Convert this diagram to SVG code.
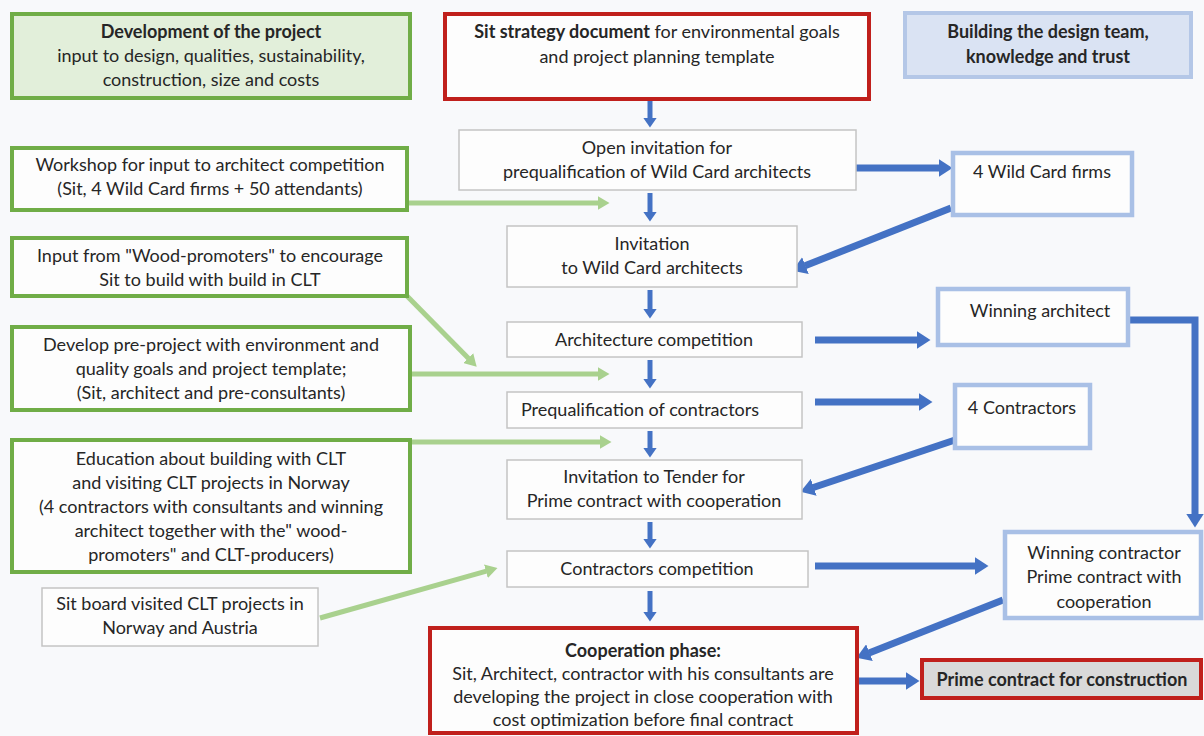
<svg xmlns="http://www.w3.org/2000/svg" width="1204" height="736" viewBox="0 0 1204 736">
  <defs>
    <style>
      text { font-family: Lato, "Liberation Sans", sans-serif; font-size: 18px; fill: #262626; text-anchor: middle; }
      .b { font-weight: bold; }
      .step { fill: #fdfdfd; stroke: #c4c4c4; stroke-width: 1.5; }
      .input { fill: #fdfdfd; stroke: #70ad47; stroke-width: 4; }
      .team { fill: #fdfdfd; stroke: #a9c0e6; stroke-width: 4.5; }
      .key { fill: #fdfdfd; stroke: #c0201c; stroke-width: 4; }
      .blue { stroke: #4472c4; fill: none; }
      .green { stroke: #a9d18e; fill: none; stroke-width: 5; }
    </style>
    <marker id="hd" markerUnits="userSpaceOnUse" markerWidth="10" markerHeight="14" viewBox="0 0 10 14" refX="0.5" refY="7" orient="auto">
      <path d="M0,0 L10,7 L0,14 z" fill="#4472c4"/>
    </marker>
    <marker id="hb" markerUnits="userSpaceOnUse" markerWidth="14" markerHeight="18" viewBox="0 0 14 18" refX="0.5" refY="9" orient="auto">
      <path d="M0,0 L14,9 L0,18 z" fill="#4472c4"/>
    </marker>
    <marker id="hg" markerUnits="userSpaceOnUse" markerWidth="12" markerHeight="14" viewBox="0 0 12 14" refX="0.5" refY="7" orient="auto">
      <path d="M0,0 L12,7 L0,14 z" fill="#a9d18e"/>
    </marker>
  </defs>

  <rect width="1204" height="736" fill="#f8f9fb"/>

  <!-- connectors -->
  <g id="connectors">
    <!-- main sequence, downward -->
    <g class="blue" stroke-width="5" marker-end="url(#hd)">
      <line x1="650" y1="100" x2="650" y2="118"/>
      <line x1="650" y1="193" x2="650" y2="212"/>
      <line x1="650" y1="290" x2="650" y2="309"/>
      <line x1="650" y1="360" x2="650" y2="379"/>
      <line x1="650" y1="431" x2="650" y2="448"/>
      <line x1="650" y1="522" x2="650" y2="539"/>
      <line x1="650" y1="591" x2="650" y2="612"/>
    </g>
    <!-- design team links -->
    <g class="blue" stroke-width="7" marker-end="url(#hb)">
      <line x1="856" y1="168" x2="939" y2="168"/>
      <line x1="951" y1="208" x2="805" y2="265.8"/>
      <line x1="815" y1="340" x2="917" y2="340"/>
      <line x1="815" y1="402" x2="919" y2="402"/>
      <line x1="955" y1="440" x2="813.3" y2="487.5"/>
      <path d="M1128,320 H1195 V514"/>
      <line x1="815" y1="566" x2="975" y2="566"/>
      <line x1="1003" y1="600" x2="869" y2="652.9"/>
      <line x1="858" y1="681" x2="906" y2="681"/>
    </g>
    <!-- project inputs -->
    <g class="green" marker-end="url(#hg)">
      <line x1="407" y1="203" x2="598" y2="203"/>
      <line x1="407" y1="296" x2="468.6" y2="358.5"/>
      <line x1="410" y1="374" x2="598" y2="374"/>
      <line x1="410" y1="442" x2="600" y2="442"/>
      <line x1="320" y1="618" x2="486.4" y2="571.2"/>
    </g>
  </g>

  <!-- headers -->
  <g id="dev-header">
    <rect x="12" y="14" width="398" height="84" fill="#e2efda" stroke="#70ad47" stroke-width="4"/>
    <text x="211" y="38" class="b">Development of the project</text>
    <text x="211" y="62">input to design, qualities, sustainability,</text>
    <text x="211" y="86">construction, size and costs</text>
  </g>
  <g id="strategy">
    <rect x="445" y="14" width="424" height="85" class="key"/>
    <text x="657" y="38"><tspan class="b">Sit strategy document</tspan> for environmental goals</text>
    <text x="657" y="63">and project planning template</text>
  </g>
  <g id="team-header">
    <rect x="905" y="13" width="286" height="64" fill="#dae3f3" stroke="#b4c7e7" stroke-width="4"/>
    <text x="1048" y="38" class="b">Building the design team,</text>
    <text x="1048" y="63" class="b">knowledge and trust</text>
  </g>

  <!-- project inputs -->
  <g id="workshop">
    <rect x="12" y="148" width="395" height="62" class="input"/>
    <text x="210" y="171">Workshop for input to architect competition</text>
    <text x="210" y="195">(Sit, 4 Wild Card firms + 50 attendants)</text>
  </g>
  <g id="wood-promoters">
    <rect x="12" y="238" width="395" height="58" class="input"/>
    <text x="210" y="262">Input from "Wood-promoters" to encourage</text>
    <text x="210" y="286">Sit to build with build in CLT</text>
  </g>
  <g id="pre-project">
    <rect x="12" y="327" width="398" height="83" class="input"/>
    <text x="211" y="351">Develop pre-project with environment and</text>
    <text x="211" y="375">quality goals and project template;</text>
    <text x="211" y="399">(Sit, architect and pre-consultants)</text>
  </g>
  <g id="education">
    <rect x="12" y="440" width="398" height="132" class="input"/>
    <text x="211" y="465">Education about building with CLT</text>
    <text x="211" y="489">and visiting CLT projects in Norway</text>
    <text x="211" y="513">(4 contractors with consultants and winning</text>
    <text x="211" y="537">architect  together with the" wood-</text>
    <text x="211" y="561">promoters" and CLT-producers)</text>
  </g>
  <g id="board-visit">
    <rect x="42" y="588" width="276" height="58" class="step"/>
    <text x="180" y="610">Sit board visited CLT projects in</text>
    <text x="180" y="634">Norway and Austria</text>
  </g>

  <!-- main sequence -->
  <g id="open-invitation">
    <rect x="459" y="130" width="397" height="60" class="step"/>
    <text x="657" y="154">Open invitation for</text>
    <text x="657" y="178">prequalification of Wild Card architects</text>
  </g>
  <g id="invitation">
    <rect x="507" y="226" width="290" height="61" class="step"/>
    <text x="652" y="250">Invitation</text>
    <text x="652" y="274">to Wild Card architects</text>
  </g>
  <g id="architecture-competition">
    <rect x="507" y="322" width="295" height="35" class="step"/>
    <text x="654" y="346">Architecture competition</text>
  </g>
  <g id="prequalification">
    <rect x="507" y="392" width="295" height="36" class="step"/>
    <text x="640" y="416">Prequalification of contractors</text>
  </g>
  <g id="tender">
    <rect x="507" y="460" width="295" height="59" class="step"/>
    <text x="654" y="483">Invitation to Tender  for</text>
    <text x="654" y="507">Prime contract with cooperation</text>
  </g>
  <g id="contractors-competition">
    <rect x="507" y="551" width="301" height="36" class="step"/>
    <text x="657" y="575">Contractors competition</text>
  </g>
  <g id="cooperation-phase">
    <rect x="430" y="628" width="427" height="105" class="key"/>
    <text x="643" y="657" class="b">Cooperation phase:</text>
    <text x="643" y="680">Sit, Architect, contractor with his consultants are</text>
    <text x="643" y="703">developing the project in close cooperation  with</text>
    <text x="643" y="726">cost optimization before final contract</text>
  </g>

  <!-- design team -->
  <g id="wild-card-firms">
    <rect x="953" y="153" width="179" height="62" class="team"/>
    <text x="1042" y="178">4 Wild Card firms</text>
  </g>
  <g id="winning-architect">
    <rect x="938" y="289" width="190" height="56" class="team"/>
    <text x="1040" y="317">Winning architect</text>
  </g>
  <g id="contractors">
    <rect x="955" y="385" width="135" height="63" class="team"/>
    <text x="1022" y="414">4 Contractors</text>
  </g>
  <g id="winning-contractor">
    <rect x="1005" y="532" width="196" height="86" class="team"/>
    <text x="1104" y="559">Winning contractor</text>
    <text x="1104" y="583">Prime contract with</text>
    <text x="1104" y="608">cooperation</text>
  </g>
  <g id="prime-contract">
    <rect x="922" y="660" width="279" height="38" fill="#d9d9d9" stroke="#c0201c" stroke-width="4"/>
    <text x="1062" y="686" class="b">Prime contract for construction</text>
  </g>
</svg>
